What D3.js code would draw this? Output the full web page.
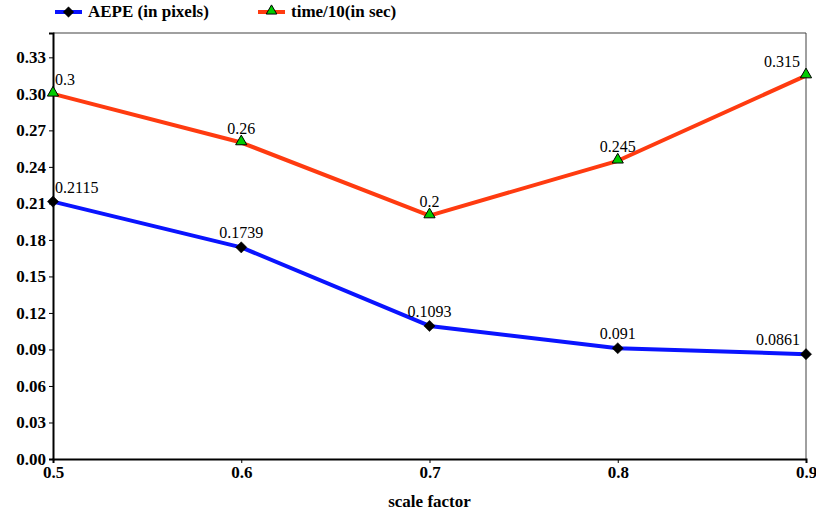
<!DOCTYPE html>
<html><head><meta charset="utf-8">
<script src="https://cdn.jsdelivr.net/npm/d3@7"></script>
</head><body style="margin:0">
<svg id="c" width="816" height="515" font-family="Liberation Serif, Times New Roman, serif" style="font-family:'Liberation Serif','Times New Roman',serif"></svg>
<script>
const scales = [0.5, 0.6, 0.7, 0.8, 0.9];
const aepe = [0.2115, 0.1739, 0.1093, 0.091, 0.0861];
const time10 = [0.3, 0.26, 0.2, 0.245, 0.315];
const aepeLabels = ["0.2115", "0.1739", "0.1093", "0.091", "0.0861"];
const timeLabels = ["0.3", "0.26", "0.2", "0.245", "0.315"];
const yTicks = [0, 0.03, 0.06, 0.09, 0.12, 0.15, 0.18, 0.21, 0.24, 0.27, 0.30, 0.33];
const seriesNames = ["AEPE (in pixels)", "time/10(in sec)"];

const svg = d3.select("#c");
svg.append("style").text("text{font-family:'Liberation Serif','Times New Roman',serif !important}");
const L = 53, R = 806, T = 33, B = 459;
const x = d3.scaleLinear().domain([0.5, 0.9]).range([L, R]);
const y = d3.scaleLinear().domain([0, 0.35]).range([B, T]);
const FF = "Liberation Serif";

svg.append("line").attr("x1", L).attr("x2", R).attr("y1", T).attr("y2", T).attr("stroke", "#808080").attr("stroke-width", 1.5);
svg.append("line").attr("x1", R).attr("x2", R).attr("y1", T).attr("y2", B).attr("stroke", "#404040").attr("stroke-width", 1);

const yAxis = svg.append("g").attr("transform", `translate(${L},0)`)
  .call(d3.axisLeft(y).tickValues(yTicks).tickFormat(d3.format(".2f")).tickSize(4).tickPadding(3));
const xAxis = svg.append("g").attr("transform", `translate(0,${B})`)
  .call(d3.axisBottom(x).tickValues(scales).tickFormat(d3.format(".1f")).tickSize(4).tickPadding(3));
[yAxis, xAxis].forEach(g => {
  g.attr("font-family", FF).attr("font-size", 17).attr("font-weight", "bold");
  g.select(".domain").attr("stroke", "#000").attr("stroke-width", 2);
  g.selectAll(".tick line").attr("stroke", "#000");
  g.selectAll("text").attr("font-family", FF).attr("font-weight", "bold").attr("font-size", 17).attr("fill", "#000");
});

svg.append("text").attr("x", (L + R) / 2).attr("y", 507).attr("text-anchor", "middle")
  .attr("font-family", FF).attr("font-weight", "bold").attr("font-size", 17).text("scale factor");

const line = d3.line().x((d, i) => x(scales[i])).y(d => y(d));
const n = scales.length;

function drawSeries(vals, labels, color, shape) {
  svg.append("path").datum(vals).attr("d", line).attr("fill", "none")
    .attr("stroke", color).attr("stroke-width", 4).attr("stroke-linejoin", "round");
  const sym = shape === "diamond"
    ? d3.symbol().type(d3.symbolDiamond2).size(80)
    : d3.symbol().type(d3.symbolTriangle2).size(90);
  svg.selectAll(null).data(vals).join("path")
    .attr("transform", (d, i) => `translate(${x(scales[i])},${y(d) + (shape === "diamond" ? 0 : -1)})`)
    .attr("d", sym).attr("fill", shape === "diamond" ? "#000" : "#00cc00")
    .attr("stroke", "#000").attr("stroke-width", shape === "diamond" ? 0.5 : 1);
  svg.selectAll(null).data(vals).join("text")
    .attr("font-family", FF).attr("font-size", 16).attr("fill", "#000")
    .attr("x", (d, i) => x(scales[i]) + (i === 0 ? 2 : i === n - 1 ? -6 : 0))
    .attr("y", d => y(d) - 9)
    .attr("text-anchor", (d, i) => i === 0 ? "start" : i === n - 1 ? "end" : "middle")
    .text((d, i) => labels[i]);
}
drawSeries(time10, timeLabels, "#ff3b10", "triangle");
drawSeries(aepe, aepeLabels, "#0a14ff", "diamond");

const leg = [
  {name: seriesNames[0], color: "#0a14ff", shape: "diamond", x0: 55},
  {name: seriesNames[1], color: "#ff3b10", shape: "triangle", x0: 258}
];
leg.forEach(l => {
  svg.append("line").attr("x1", l.x0).attr("x2", l.x0 + 27).attr("y1", 12).attr("y2", 12)
    .attr("stroke", l.color).attr("stroke-width", 4);
  svg.append("path").attr("transform", `translate(${l.x0 + 13.5},${l.shape === "diamond" ? 12 : 11})`)
    .attr("d", d3.symbol().type(l.shape === "diamond" ? d3.symbolDiamond2 : d3.symbolTriangle2).size(l.shape === "diamond" ? 70 : 80))
    .attr("fill", l.shape === "diamond" ? "#000" : "#00cc00").attr("stroke", "#000").attr("stroke-width", l.shape === "diamond" ? 0.5 : 1);
  svg.append("text").attr("x", l.x0 + 33).attr("y", 17)
    .attr("font-family", FF).attr("font-weight", "bold").attr("font-size", 17).text(l.name);
});
</script>
</body></html>
